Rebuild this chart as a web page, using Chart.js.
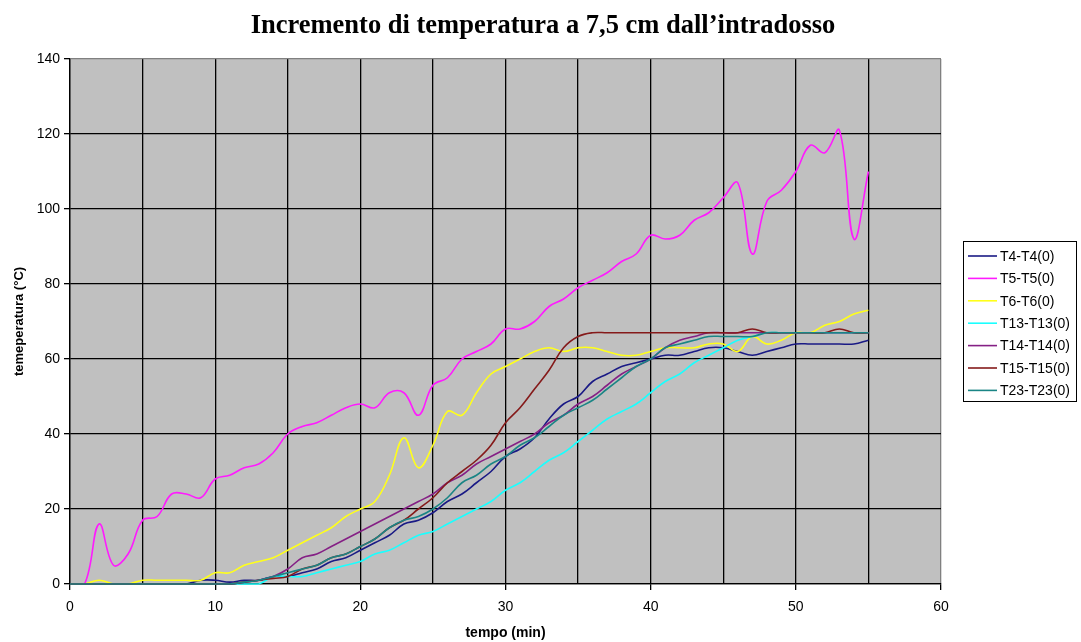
<!DOCTYPE html>
<html lang="it">
<head>
<meta charset="UTF-8" />
<title>Incremento di temperatura</title>
<style>
    body { margin: 0; background: #fff; }
    #wrap { width: 1081px; height: 642px; }
</style>
</head>
<body>
<div id="wrap"><canvas id="chart" width="1081" height="642"></canvas></div>

<script src="https://cdn.jsdelivr.net/npm/chart.js"></script>
<script>
    // tempo (min)
    const tempo = [0, 1, 2, 3, 4, 5, 6, 7, 8, 9, 10, 11, 12, 13, 14, 15, 16, 17, 18, 19,
        20, 21, 22, 23, 24, 25, 26, 27, 28, 29, 30, 31, 32, 33, 34, 35, 36, 37, 38, 39,
        40, 41, 42, 43, 44, 45, 46, 47, 48, 49, 50, 51, 52, 53, 54, 55];

    const T4 = [0, 0, 0, 0, 0, 0, 0, 0, 0, 1, 1, 0.5, 1, 1, 2, 2, 3, 4, 6, 7,
        9, 11, 13, 16, 17, 19, 22, 24, 27, 30, 34, 36, 39, 44, 48, 50, 54, 56, 58, 59,
        60, 61, 61, 62, 63, 63, 62, 61, 62, 63, 64, 64, 64, 64, 64, 65];
    const T5 = [0, 0, 16, 5, 8, 17, 18, 24, 24, 23, 28, 29, 31, 32, 35, 40, 42, 43, 45, 47,
        48, 47, 51, 51, 45, 53, 55, 60, 62, 64, 68, 68, 70, 74, 76, 79, 81, 83, 86, 88,
        93, 92, 93, 97, 99, 103, 107, 88, 102, 105, 110, 117, 115, 121, 92, 110];
    const T6 = [0, 0, 1, 0, 0, 1, 1, 1, 1, 1, 3, 3, 5, 6, 7, 9, 11, 13, 15, 18,
        20, 22, 29, 39, 31, 37, 46, 45, 51, 56, 58, 60, 62, 63, 62, 63, 63, 62, 61, 61,
        62, 63, 63, 63, 64, 64, 62, 66, 64, 65, 67, 67, 69, 70, 72, 73];
    const T13 = [0, 0, 0, 0, 0, 0, 0, 0, 0, 0, 0, 0, 0, 0, 2, 2, 2, 3, 4, 5,
        6, 8, 9, 11, 13, 14, 16, 18, 20, 22, 25, 27, 30, 33, 35, 38, 41, 44, 46, 48,
        51, 54, 56, 59, 61, 63, 65, 66, 67, 67, 67, 67, 67, 67, 67, 67];
    const T14 = [0, 0, 0, 0, 0, 0, 0, 0, 0, 0, 0, 0, 0.5, 1, 2, 4, 7, 8, 10, 12,
        14, 16, 18, 20, 22, 24, 27, 29, 32, 34, 36, 38, 40, 43, 45, 48, 50, 53, 56, 58,
        60, 63, 65, 66, 67, 67, 67, 67, 67, 67, 67, 67, 67, 67, 67, 67];
    const T15 = [0, 0, 0, 0, 0, 0, 0, 0, 0, 0, 0, 0, 0.5, 1, 1.5, 2, 4, 5, 7, 8,
        10, 12, 15, 17, 20, 23, 27, 30, 33, 37, 43, 47, 52, 57, 63, 66, 67, 67, 67, 67,
        67, 67, 67, 67, 67, 67, 67, 68, 67, 67, 67, 67, 67, 68, 67, 67];
    const T23 = [0, 0, 0, 0, 0, 0, 0, 0, 0, 0, 0, 0, 0.5, 1, 2, 3, 4, 5, 7, 8,
        10, 12, 15, 17, 18, 20, 23, 27, 29, 32, 34, 37, 39, 42, 45, 47, 49, 52, 55, 58,
        60, 63, 64, 65, 66, 66, 66, 66, 67, 67, 67, 67, 67, 67, 67, 67];

    const seriesNames = ['T4-T4(0)', 'T5-T5(0)', 'T6-T6(0)', 'T13-T13(0)', 'T14-T14(0)', 'T15-T15(0)', 'T23-T23(0)'];
    const seriesData = [T4, T5, T6, T13, T14, T15, T23];
    const seriesColors = ['#1a1a85', '#ff1aff', '#ffff1a', '#1affff', '#852085', '#851a1a', '#1a8585'];

    const chartTitle = 'Incremento di temperatura a 7,5 cm dall’intradosso';
    const sans = '"Liberation Sans", Arial, sans-serif';

    const datasets = seriesNames.map((name, i) => ({
        label: name,
        data: tempo.map((t, k) => ({ x: t, y: seriesData[i][k] })),
        borderColor: seriesColors[i],
        borderWidth: 1.6,
        pointRadius: 0,
        tension: 0.4,
        fill: false,
        clip: false,
        order: seriesNames.length - i  // last series drawn on top, like Excel
    }));

    // grey plot area + title centred on the whole picture
    const plotBackground = {
        id: 'plotBackground',
        beforeDraw(chart) {
            const { ctx, chartArea: a } = chart;
            ctx.save();
            ctx.fillStyle = '#c0c0c0';
            ctx.fillRect(a.left, a.top, a.right - a.left, a.bottom - a.top);
            ctx.fillStyle = '#000';
            ctx.font = 'bold 26.5px "Liberation Serif", "Times New Roman", serif';
            ctx.textAlign = 'center';
            ctx.textBaseline = 'alphabetic';
            ctx.fillText(chartTitle, 543, 33);
            ctx.restore();
        }
    };

    // boxed legend at the right
    const boxLegend = {
        id: 'boxLegend',
        afterDraw(chart) {
            const ctx = chart.ctx;
            const x0 = 963.5, y0 = 241.5, w = 113, h = 160;
            ctx.save();
            ctx.fillStyle = '#fff';
            ctx.fillRect(x0, y0, w, h);
            ctx.strokeStyle = '#000';
            ctx.lineWidth = 1;
            ctx.strokeRect(x0, y0, w, h);
            ctx.font = '14px ' + sans;
            ctx.textBaseline = 'middle';
            seriesNames.forEach((name, i) => {
                const y = 256 + i * 22.4;
                ctx.strokeStyle = seriesColors[i];
                ctx.lineWidth = 1.6;
                ctx.beginPath();
                ctx.moveTo(968, y);
                ctx.lineTo(997, y);
                ctx.stroke();
                ctx.fillStyle = '#000';
                ctx.fillText(name, 1000, y + 1);
            });
            ctx.restore();
        }
    };

    const ctx = document.getElementById('chart').getContext('2d');
    new Chart(ctx, {
        type: 'line',
        data: { datasets: datasets },
        options: {
            responsive: false,
            animation: false,
            layout: { padding: { left: 0, right: 140, top: 59, bottom: 0 } },
            plugins: {
                legend: { display: false },
                tooltip: { enabled: false },
                title: { display: false }
            },
            scales: {
                x: {
                    type: 'linear',
                    min: 0,
                    max: 60,
                    afterFit(axis) { axis.height = 58; },
                    ticks: {
                        stepSize: 5,
                        autoSkip: false,
                        maxRotation: 0,
                        padding: 9,
                        color: '#000',
                        font: { family: sans, size: 14 },
                        callback: v => (v % 10 === 0 ? v : '')
                    },
                    grid: {
                        color: c => (c.tick && c.tick.value === 60 ? '#808080' : '#000'),
                        lineWidth: 1.3,
                        tickLength: 6,
                        tickColor: c => (c.tick && c.tick.value % 10 === 0 ? '#000' : 'rgba(0,0,0,0)')
                    },
                    border: { color: '#000', width: 1.3 },
                    title: {
                        display: true,
                        text: 'tempo (min)',
                        color: '#000',
                        font: { family: sans, size: 14, weight: 'bold' },
                        padding: { top: 0, bottom: 0 }
                    }
                },
                y: {
                    min: 0,
                    max: 140,
                    afterFit(axis) { axis.width = 70; },
                    ticks: {
                        stepSize: 20,
                        padding: 4,
                        color: '#000',
                        font: { family: sans, size: 14 }
                    },
                    grid: {
                        color: c => (c.tick && c.tick.value === 140 ? '#808080' : '#000'),
                        lineWidth: 1.3,
                        tickLength: 6,
                        tickColor: '#000'
                    },
                    border: { color: '#000', width: 1.3 },
                    title: {
                        display: true,
                        text: 'temeperatura (°C)',
                        color: '#000',
                        font: { family: sans, size: 13, weight: 'bold' },
                        padding: { top: 12, bottom: 2 }
                    }
                }
            }
        },
        plugins: [plotBackground, boxLegend]
    });
</script>
</body>
</html>
